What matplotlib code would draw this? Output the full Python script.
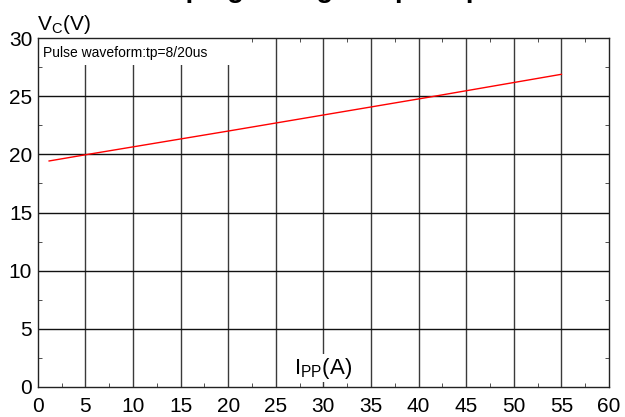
import matplotlib
matplotlib.use("Agg")
import matplotlib.pyplot as plt
from matplotlib.patches import Rectangle

# clamping voltage vs peak pulse current
ipp = [1.2, 5, 20, 41, 55]
vc = [19.43, 19.96, 22.0, 24.9, 26.88]

x_ticks = list(range(0, 61, 5))
y_ticks = list(range(0, 31, 5))

plt.rcParams['font.family'] = ['Liberation Sans', 'DejaVu Sans']

fig = plt.figure(figsize=(6.25, 4.17), dpi=100)
ax = fig.add_axes([37.7 / 625, 1 - 387 / 417, (609 - 37.7) / 625, (387 - 38) / 417])

ax.set_xlim(0, 60)
ax.set_ylim(0, 30)
ax.set_xticks(x_ticks)
ax.set_yticks(y_ticks)
ax.set_xticks([x + 2.5 for x in x_ticks[:-1]], minor=True)
ax.set_yticks([y + 2.5 for y in y_ticks[:-1]], minor=True)
ax.tick_params(which='major', length=0, labelsize=15, colors='black')
ax.tick_params(axis='x', which='major', pad=7)
ax.tick_params(axis='y', which='major', pad=4)
ax.tick_params(which='minor', direction='in', length=3, top=True, right=True, color='#333333')

for x in x_ticks[1:-1]:
    ax.axvline(x, color='#3a3a3a', lw=1, zorder=1)
for y in y_ticks[1:-1]:
    ax.axhline(y, color='#111111', lw=1, zorder=1)

for s in ax.spines.values():
    s.set_color('#222222')
    s.set_linewidth(1)

ax.plot(ipp, vc, color='red', lw=1, zorder=3)

# white box behind the note hides the grid there
ax.add_patch(Rectangle((0.1, 27.7), 20.6, 2.25, facecolor='white', edgecolor='none', zorder=2))
ax.text(0.55, 28.75, 'Pulse waveform:tp=8/20us', fontsize=10, va='center', ha='left', zorder=4)

ax.text(30, 0.55, r'I$_{\mathregular{PP}}$(A)', fontsize=16, ha='center', va='bottom', zorder=4,
        bbox=dict(facecolor='white', edgecolor='none', pad=1))
fig.text(37 / 625, 1 - 30 / 417, r'V$_{\mathregular{C}}$(V)', fontsize=15, ha='left', va='baseline')

fig.text(118 / 625, 1 + 3 / 417, 'Clamping voltage vs peak pulse current', fontsize=20,
         fontweight='bold', ha='left', va='baseline')

fig.savefig('out.png', dpi=100)
